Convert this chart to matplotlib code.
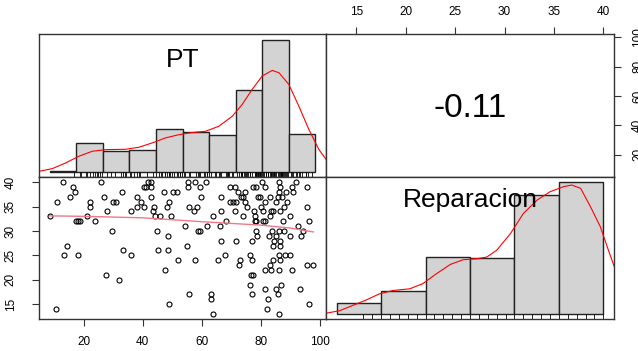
import matplotlib
matplotlib.use("Agg")
import matplotlib.pyplot as plt
import numpy as np

plt.rcParams['font.family'] = ['Liberation Sans', 'DejaVu Sans']

# scatter data (PT on x, Reparacion on y)
pt_vals = [8.5, 10.8, 10.9, 12.9, 13.5, 14.5, 15.5, 16.5, 17.2, 17.6, 18.2, 18.2, 18.9, 21, 22.2, 22.2,
           24, 26, 27, 27.7, 28, 29.7, 30, 31, 32, 33, 33.3, 36, 36, 38, 38, 39.4, 40.6, 40.6, 41.7,
           42.8, 41.3, 42.7, 42.8, 43.4, 44, 44.3, 44.7, 45.2, 46, 47.2, 47.7, 48.2, 48.5, 48.5, 49,
           49, 50.3, 51.6, 49.7, 52, 54.4, 55, 55.5, 55.5, 55.7, 55.7, 57.5, 57.7, 58.3, 57.7, 59.3,
           58.6, 59.3, 59.8, 61.3, 61.8, 63, 63.3, 63.8, 63.8, 65.6, 66.1, 66.4, 66.5, 66.7, 68, 68.4,
           69.7, 71.2, 69.7, 70.6, 71.5, 71.3, 71.6, 72.3, 73.4, 73, 72.6, 74, 74, 74.8, 75.4, 74.5,
           76.4, 76.4, 76.7, 77.7, 78, 78, 77.3, 78.4, 76.9, 76.9, 77, 77.5, 78.5, 79, 79.7, 78.8,
           78.5, 80, 80.5, 80.7, 81.3, 80.7, 81.5, 81.6, 81.6, 81.6, 82, 82.4, 82.7, 83, 83, 83.3,
           83.5, 84.2, 83.5, 83.8, 84.2, 84.2, 84.5, 85, 85, 85, 85.7, 85.8, 86.2, 86.5, 86.3, 86.2,
           86.2, 86.2, 86.5, 86.6, 86.6, 86.6, 86.2, 86.8, 87.2, 87.4, 88, 88.2, 88.5, 88, 88.9, 90,
           90, 90, 90.5, 90.5, 91, 91.9, 92.5, 93.2, 93.6, 94.2, 95.6, 95.6, 95.8, 96.5, 96.5, 97.8]
rep_vals = [33, 14, 36, 40, 25, 27, 37, 39, 38, 32, 32, 25, 32, 33, 36, 35,
            32, 40, 37, 21, 34, 30, 36, 36, 20, 38, 26, 25, 34, 37, 35, 36, 35, 39, 40,
            40, 39, 39, 37, 34, 35, 33, 30, 26, 33, 38, 22, 35, 29, 26, 36,
            15, 38, 38, 33, 24, 31, 27, 40, 39, 35, 17, 34, 24, 35, 40, 39,
            30, 30, 37, 40, 31, 16, 17, 33, 13, 24, 31, 34, 28, 37, 25, 32,
            39, 39, 36, 36, 36, 34, 28, 38, 37, 24, 23, 37, 33, 36, 35, 38,
            25, 19, 21, 34, 33, 32, 39, 39, 28, 24, 17, 21, 30, 37, 37, 29,
            32, 35, 40, 32, 32, 34, 36, 39, 22, 18, 14, 16, 29, 37, 33, 23,
            34, 34, 22, 30, 24, 27, 28, 29, 18, 36, 17, 37, 40, 39, 38, 30,
            22, 13, 34, 27, 28, 24, 25, 19, 37, 32, 35, 25, 38, 30, 36, 29,
            25, 33, 39, 22, 38, 40, 31, 18, 29, 30, 39, 23, 35, 32, 15, 23]

# smooth fit line in scatter panel
fit_pt = [8.5, 20, 40, 60, 80, 90, 97.8]
fit_rep = [33.1, 33.0, 32.7, 31.9, 31.2, 30.6, 29.8]

# histograms
pt_breaks = [8.5, 17.5, 26.5, 35.5, 44.5, 53.5, 62.5, 71.5, 80.5, 89.5, 98.5]
pt_counts = [1, 18, 13, 14, 27, 25, 23, 51, 82, 24]
rep_breaks = [13, 17.5, 22, 26.5, 31, 35.5, 40]
rep_counts = [8, 16, 40, 39, 83, 92]

# density curves (in count units)
pt_dens_x = [4.9, 9.4, 13.9, 18.4, 23.0, 27.5, 34.2, 38.8, 43.3, 47.8, 52.3, 56.8, 61.3, 65.8,
             70.4, 73.7, 77.1, 80.5, 83.9, 86.2, 89.5, 92.9, 96.3, 99.7, 102.2]
pt_dens_y = [0.6, 2.3, 5.8, 10.0, 13.1, 14.1, 14.3, 15.6, 18.3, 21.4, 23.4, 24.7, 25.5, 28.6,
             34.9, 42.1, 51.5, 59.8, 63.3, 61.8, 54.6, 41.1, 26.6, 14.1, 7.9]
rep_dens_x = [11.9, 13.3, 14.6, 16.0, 17.3, 18.7, 20.4, 21.7, 23.1, 24.5, 25.8, 27.2, 28.2,
              29.2, 30.6, 31.9, 33.3, 34.6, 36.0, 36.8, 37.7, 38.7, 39.7, 40.4, 41.1]
rep_dens_y = [0.5, 2.3, 5.9, 9.8, 14.0, 16.4, 17.6, 21.1, 28.1, 34.6, 37.9, 38.6, 39.8,
              44.5, 56.2, 70.2, 79.6, 85.4, 89.0, 90.1, 87.8, 74.9, 60.9, 46.8, 33.2]

r_text = "-0.11"

pt_lim = (4.9, 102.1)
rep_lim = (11.92, 41.08)

fig = plt.figure(figsize=(6.38, 3.51), dpi=100)
W, H = 638, 351
def box(x0, y0, x1, y1):
    return [x0 / W, 1 - y1 / H, (x1 - x0) / W, (y1 - y0) / H]

ax_pt = fig.add_axes(box(39, 34, 326, 177))
ax_r = fig.add_axes(box(326, 34, 614, 177))
ax_sc = fig.add_axes(box(39, 177, 326, 319))
ax_rep = fig.add_axes(box(326, 177, 614, 319))

for ax in (ax_pt, ax_r, ax_sc, ax_rep):
    for s in ax.spines.values():
        s.set_linewidth(1.0)
        s.set_color('#333333')
    ax.tick_params(length=5, width=0.8, labelsize=8.5, color='#333333')

def rug_pos(v, lo, hi):
    v = np.unique(v)
    return lo + (v - v.min()) / (v.max() - v.min()) * (hi - lo)

# --- PT histogram
ax_pt.bar(pt_breaks[:-1], pt_counts, width=np.diff(pt_breaks), align='edge',
          color='#d3d3d3', edgecolor='#222222', linewidth=1.0)
ax_pt.plot(pt_dens_x, pt_dens_y, color='red', lw=0.8)
ax_pt.set_xlim(pt_lim)
ax_pt.set_ylim(-2.9, 85.9)
ax_pt.vlines(rug_pos(np.array(pt_vals), 16.8, 97.2), -2.9, 0, color='black', lw=0.6)
ax_pt.set_xticks([]); ax_pt.set_yticks([])
ax_pt.text(0.5, 0.82, "PT", transform=ax_pt.transAxes, ha='center', va='center', fontsize=19)

# --- correlation
ax_r.set_xlim(rep_lim)
ax_r.set_ylim(pt_lim)
ax_r.xaxis.tick_top()
ax_r.yaxis.tick_right()
ax_r.set_xticks([15, 20, 25, 30, 35, 40])
ax_r.set_yticks([20, 40, 60, 80, 100])
ax_r.set_yticklabels(['20', '40', '60', '80', '100'], rotation=90, va='center')
ax_r.tick_params(axis='x', pad=6.5)
ax_r.tick_params(axis='y', pad=8)
ax_r.text(0.5, 0.48, r_text, transform=ax_r.transAxes, ha='center', va='center', fontsize=24)

# --- scatter
ax_sc.plot(pt_vals, rep_vals, 'o', ms=3.6, mfc='none', mec='black', mew=0.8)
ax_sc.plot(fit_pt, fit_rep, color='#f07888', lw=1.0)
ax_sc.set_xlim(pt_lim)
ax_sc.set_ylim(rep_lim)
ax_sc.set_xticks([20, 40, 60, 80, 100])
ax_sc.set_yticks([15, 20, 25, 30, 35, 40])
ax_sc.set_yticklabels(['15', '20', '25', '30', '35', '40'], rotation=90, va='center')
ax_sc.tick_params(axis='x', pad=7.5)
ax_sc.tick_params(axis='y', pad=11)

# --- Reparacion histogram
ax_rep.bar(rep_breaks[:-1], rep_counts, width=np.diff(rep_breaks), align='edge',
           color='#d3d3d3', edgecolor='#222222', linewidth=1.0)
ax_rep.plot(rep_dens_x, rep_dens_y, color='red', lw=0.8)
ax_rep.set_xlim(rep_lim)
ax_rep.set_ylim(-3.5, 95.7)
ax_rep.vlines(rug_pos(np.array(rep_vals), 15.7, 40.0), -3.5, 0, color='black', lw=0.6)
ax_rep.set_xticks([]); ax_rep.set_yticks([])
ax_rep.text(0.5, 0.84, "Reparacion", transform=ax_rep.transAxes, ha='center', va='center', fontsize=19)

fig.savefig("out.png", dpi=100)
